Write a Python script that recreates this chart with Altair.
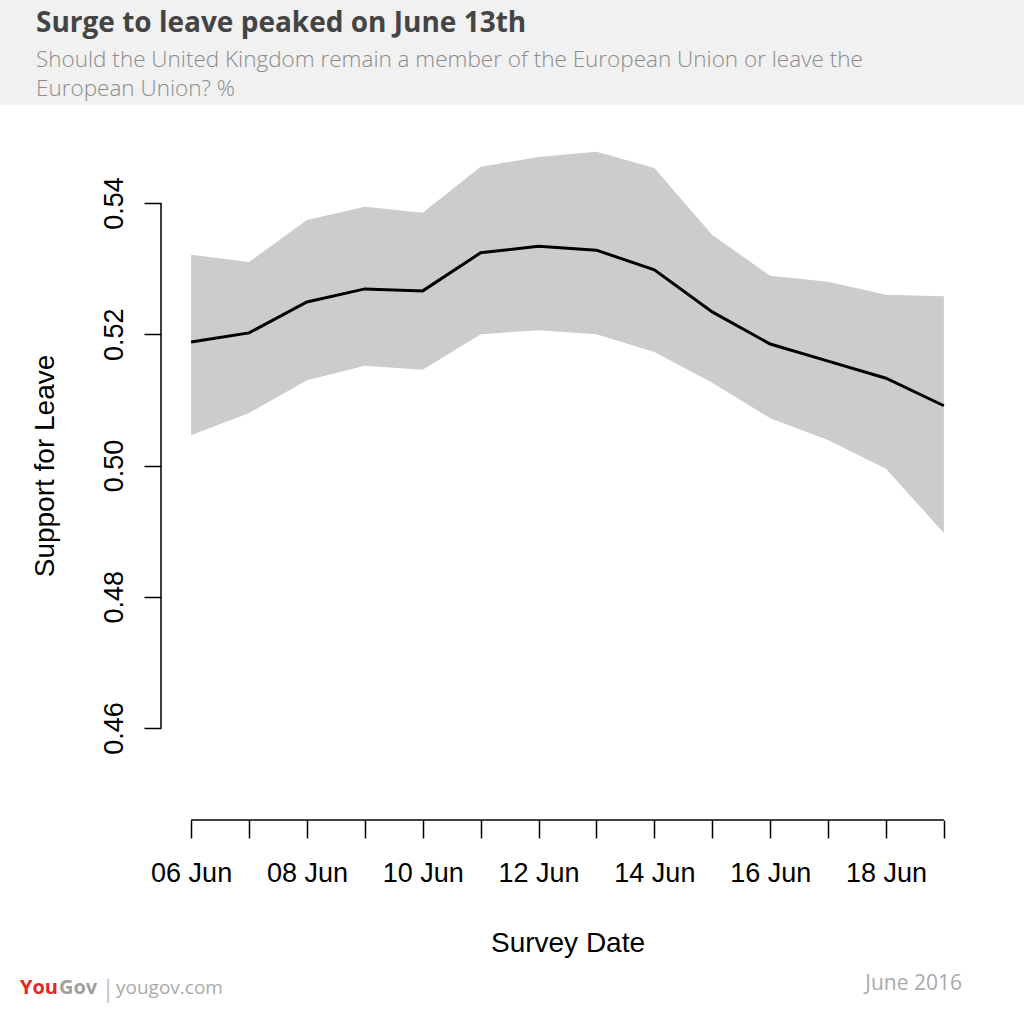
import altair as alt
import pandas as pd

# ---- data ----
days = [6, 7, 8, 9, 10, 11, 12, 13, 14, 15, 16, 17, 18, 19]
leave = [0.5188, 0.5202, 0.5249, 0.5269, 0.5266, 0.5324, 0.5334, 0.5328,
         0.5298, 0.5234, 0.5185, 0.5159, 0.5133, 0.5091]
upper = [0.5321, 0.5310, 0.5374, 0.5394, 0.5385, 0.5455, 0.5470, 0.5478,
         0.5453, 0.5351, 0.5289, 0.5280, 0.5260, 0.5258]
lower = [0.5046, 0.5080, 0.5130, 0.5152, 0.5146, 0.5200, 0.5206, 0.5200,
         0.5173, 0.5126, 0.5072, 0.5039, 0.4995, 0.4897]
y_ticks = [0.46, 0.48, 0.50, 0.52, 0.54]

title_text = "Surge to leave peaked on June 13th"
subtitle_lines = ["Should the United Kingdom remain a member of the European Union or leave the",
                  "European Union? %"]
x_title = "Survey Date"
y_title = "Support for Leave"

df = pd.DataFrame({"day": days, "leave": leave, "upper": upper, "lower": lower})
axis_df = pd.DataFrame({"day": [days[0]], "d1": [days[-1]], "lower": [y_ticks[0]], "y1": [y_ticks[-1]]})

W, H = 813, 709
PL, PT = 161, 111
AX_FONT = "Liberation Sans"
HD_FONT = "Open Sans"

xscale = alt.Scale(domain=[5.48, 19.52], nice=False, zero=False)
yscale = alt.Scale(domain=[0.446, 0.554], nice=False, zero=False)

xaxis = alt.Axis(
    values=days, domain=False, grid=False, ticks=True, tickColor="black", tickWidth=1.5,
    tickSize=18, labelExpr="datum.value % 2 == 0 ? (datum.value < 10 ? '0' : '') + datum.value + ' Jun' : ''",
    labelFont=AX_FONT, labelFontSize=27, labelColor="black", labelPadding=22,
    labelOverlap=False, labelFlush=False, title=x_title, titleFont=AX_FONT,
    titleFontSize=28, titleFontWeight="normal", titleColor="black",
    titleBaseline="alphabetic", titleY=131,
)
yaxis = alt.Axis(
    values=y_ticks, format=".2f", domain=False, grid=False, ticks=True, tickColor="black",
    tickWidth=1.5, tickSize=17, labelAngle=270, labelAlign="center", labelBaseline="alphabetic",
    labelFont=AX_FONT, labelFontSize=27, labelColor="black", labelPadding=22,
    labelOverlap=False, labelFlush=False, title=y_title, titleFont=AX_FONT,
    titleFontSize=28, titleFontWeight="normal", titleColor="black",
    titleAngle=270, titleAlign="center", titleBaseline="alphabetic", titleX=53 - PL,
)

X = alt.X("day:Q", scale=xscale, axis=xaxis)

header = alt.Chart(alt.Data(values=[{}])).mark_rect(color="#f1f1f1").encode(
    x=alt.value(-PL), x2=alt.value(1024 - PL), y=alt.value(-PT), y2=alt.value(105 - PT))

band = alt.Chart(df).mark_area(color="#cccccc", opacity=1).encode(
    x=X,
    y=alt.Y("lower:Q", scale=yscale, axis=yaxis),
    y2="upper:Q",
)
line = alt.Chart(df).mark_line(color="black", strokeWidth=3).encode(
    x=X,
    y=alt.Y("leave:Q", scale=yscale, axis=yaxis),
)
yrule = alt.Chart(axis_df).mark_rule(color="black", strokeWidth=1.5).encode(
    x=alt.value(0), y=alt.Y("lower:Q", scale=yscale, axis=yaxis), y2="y1:Q")
xrule = alt.Chart(axis_df).mark_rule(color="black", strokeWidth=1.5).encode(
    y=alt.value(H), x=X, x2="d1:Q")


def label(text, x, y, size, color, weight="normal", font=HD_FONT, align="left"):
    return alt.Chart(alt.Data(values=[{}])).mark_text(
        text=text, font=font, fontSize=size, color=color, fontWeight=weight,
        align=align, baseline="alphabetic").encode(x=alt.value(x - PL), y=alt.value(y - PT))


texts = [
    label(title_text, 36, 32, 28, "#444444", weight="bold"),
    label(subtitle_lines[0], 36, 67, 22.5, "#8c8c8c", weight=300),
    label(subtitle_lines[1], 36, 96, 22.5, "#8c8c8c", weight=300),
    label("You", 20, 994, 20, "#e3281f", weight="bold"),
    label("Gov", 59, 994, 20, "#a0a0a0", weight="bold", align="left"),
    label("|", 108, 997, 24, "#c0c0c0", align="center"),
    label("yougov.com", 116, 994, 19, "#aaaaaa"),
    label("June 2016", 962, 990, 21, "#aaaaaa", align="right"),
]

chart = alt.layer(header, band, line, yrule, xrule, *texts).properties(
    width=W, height=H,
    autosize=alt.AutoSizeParams(type="none"),
    padding={"left": PL, "top": PT, "right": 1024 - PL - W, "bottom": 1014 - PT - H},
    background="white",
).configure_view(stroke=None)

chart.save("out.html", embed_options={"renderer": "svg", "actions": False})
